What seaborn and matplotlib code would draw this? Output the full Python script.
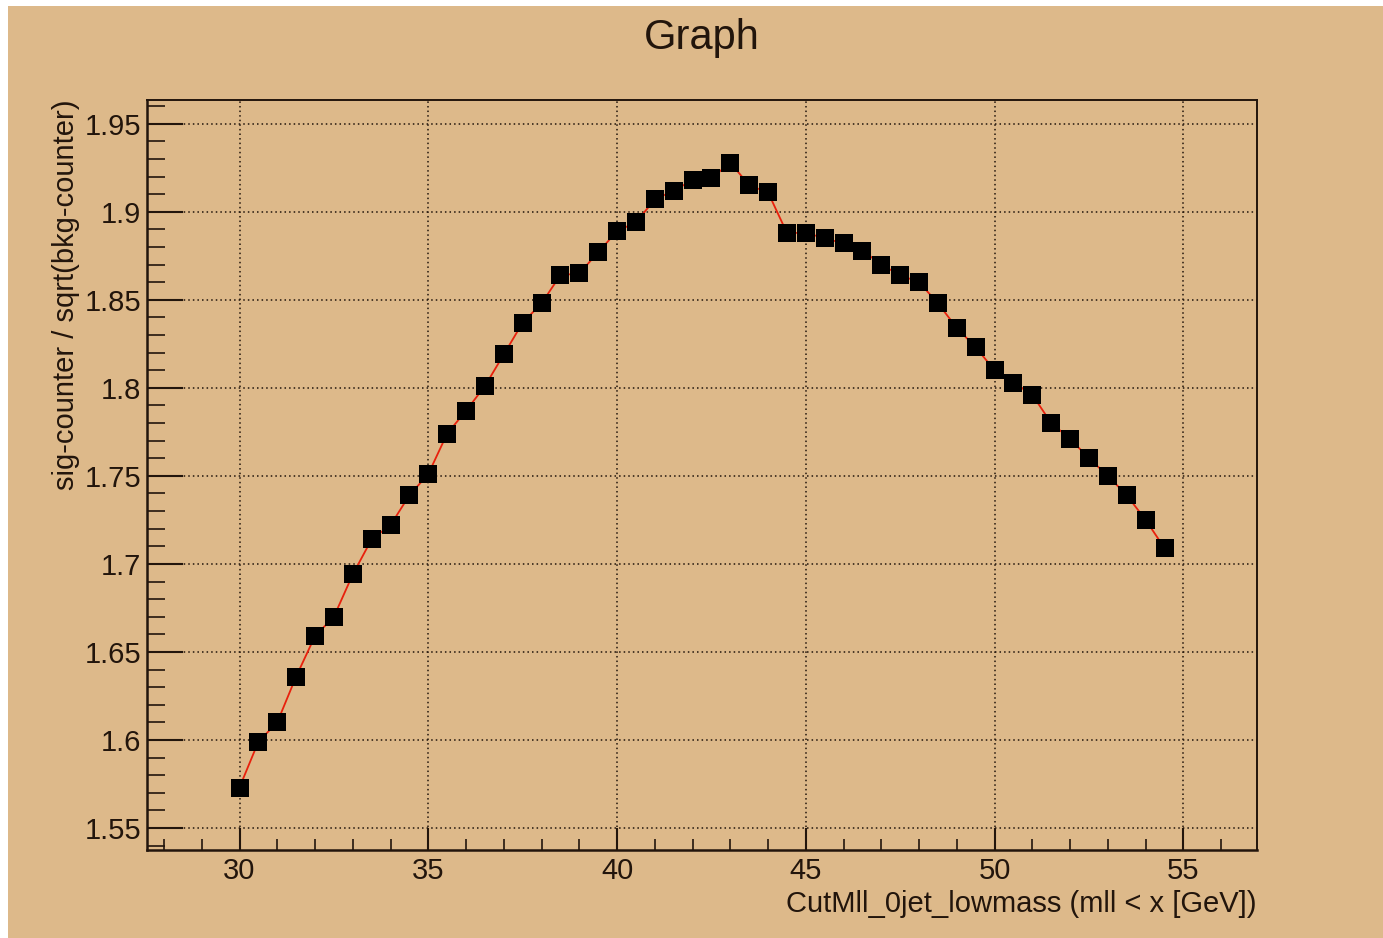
import matplotlib
matplotlib.use("Agg")
import matplotlib.pyplot as plt
from matplotlib.ticker import MultipleLocator, FormatStrFormatter, FuncFormatter
from matplotlib.patches import Rectangle
import seaborn as sns
import pandas as pd

# ---- data ----
cut_values = [30.0, 30.5, 31.0, 31.5, 32.0, 32.5, 33.0, 33.5, 34.0, 34.5,
              35.0, 35.5, 36.0, 36.5, 37.0, 37.5, 38.0, 38.5, 39.0, 39.5,
              40.0, 40.5, 41.0, 41.5, 42.0, 42.5, 43.0, 43.5, 44.0, 44.5,
              45.0, 45.5, 46.0, 46.5, 47.0, 47.5, 48.0, 48.5, 49.0, 49.5,
              50.0, 50.5, 51.0, 51.5, 52.0, 52.5, 53.0, 53.5, 54.0, 54.5]
significance = [1.573, 1.599, 1.610, 1.636, 1.659, 1.670, 1.694, 1.714, 1.722, 1.739,
                1.751, 1.774, 1.787, 1.801, 1.819, 1.837, 1.848, 1.864, 1.865, 1.877,
                1.889, 1.894, 1.907, 1.912, 1.918, 1.919, 1.928, 1.915, 1.911, 1.888,
                1.888, 1.885, 1.882, 1.878, 1.870, 1.864, 1.860, 1.848, 1.834, 1.823,
                1.810, 1.803, 1.796, 1.780, 1.771, 1.760, 1.750, 1.739, 1.725, 1.709]
title_text = "Graph"
x_label = "CutMll_0jet_lowmass (mll < x [GeV])"
y_label = "sig-counter / sqrt(bkg-counter)"

df = pd.DataFrame({"x": cut_values, "y": significance})

# ---- style ----
sns.set_theme(style="ticks")
plt.rcParams["font.family"] = ["Liberation Sans", "DejaVu Sans"]

TAN = "#DDB98A"
INK = "#22150c"

W, H = 1383, 938
fig = plt.figure(figsize=(W / 100, H / 100), dpi=100, facecolor="white")
fig.patches.append(Rectangle((8 / W, 0), 1 - 8 / W, 1 - 6 / H,
                             transform=fig.transFigure, facecolor=TAN,
                             edgecolor="none", zorder=-10))

ax = fig.add_axes([147 / W, 1 - 850 / H, (1257 - 147) / W, (850 - 100) / H])
ax.set_facecolor(TAN)

sns.lineplot(data=df, x="x", y="y", ax=ax, color="#e8200c", linewidth=1.3,
             zorder=3, legend=False)
sns.scatterplot(data=df, x="x", y="y", ax=ax, marker="s", s=150,
                color="black", edgecolor="black", linewidth=0, zorder=4,
                legend=False)

ax.set_xlim(27.55, 56.95)
ax.set_ylim(1.5375, 1.9635)

ax.xaxis.set_major_locator(MultipleLocator(5))
ax.xaxis.set_minor_locator(MultipleLocator(1))
ax.yaxis.set_major_locator(MultipleLocator(0.05))
ax.yaxis.set_minor_locator(MultipleLocator(0.01))
ax.xaxis.set_major_formatter(FormatStrFormatter("%g"))
ax.yaxis.set_major_formatter(FuncFormatter(lambda v, p: f"{v:g}"))

ax.tick_params(axis="x", which="major", direction="in", length=16, width=1.5,
               color=INK, labelsize=21, labelcolor=INK, pad=5,
               top=False, bottom=True)
ax.tick_params(axis="x", which="minor", direction="in", length=8, width=1.2,
               color=INK, top=False, bottom=True)
ax.tick_params(axis="y", which="major", direction="in", length=26, width=1.5,
               color=INK, labelsize=21, labelcolor=INK, pad=4,
               left=True, right=False)
ax.tick_params(axis="y", which="minor", direction="in", length=13, width=1.2,
               color=INK, left=True, right=False)

ax.grid(True, which="major", linestyle=(0, (1, 2)), color=INK, linewidth=1.1)

for side in ["left", "bottom"]:
    ax.spines[side].set_linewidth(1.8)
    ax.spines[side].set_color(INK)
for side in ["top", "right"]:
    ax.spines[side].set_linewidth(1.4)
    ax.spines[side].set_color(INK)
    ax.spines[side].set_visible(True)

ax.set_xlabel(x_label, fontsize=21, color=INK, ha="right", va="top")
ax.xaxis.set_label_coords(1.0, -0.053)
ax.set_ylabel(y_label, fontsize=21, color=INK, ha="right", va="bottom")
ax.yaxis.set_label_coords(-0.060, 1.0)

ax.set_title(title_text, fontsize=30, color=INK, y=1.082, va="center", pad=0)

fig.savefig("out.png", dpi=100, facecolor=fig.get_facecolor())
